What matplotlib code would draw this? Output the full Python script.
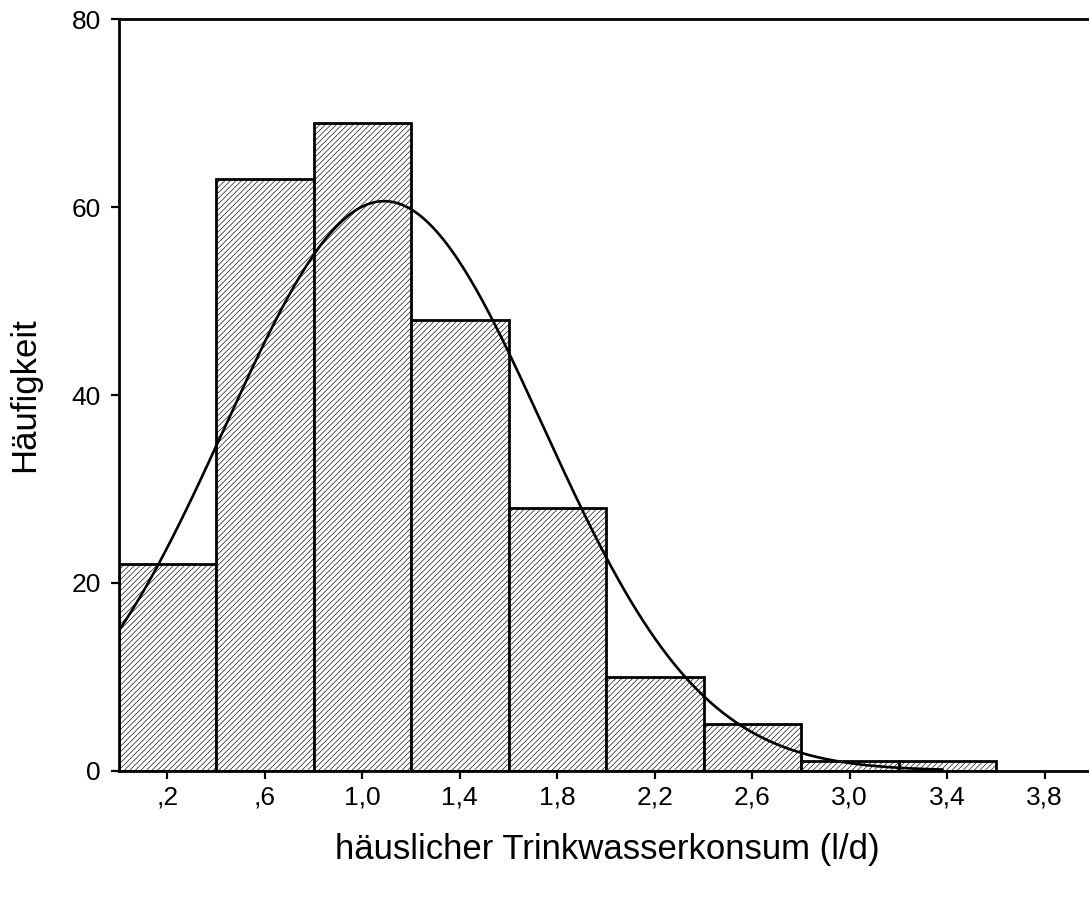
import numpy as np
import matplotlib
matplotlib.use("Agg")
import matplotlib.pyplot as plt

# ---- data ----
bin_edges_start = [0.0, 0.4, 0.8, 1.2, 1.6, 2.0, 2.4, 2.8, 3.2]
bin_width = 0.4
counts = [22, 63, 69, 48, 28, 10, 5, 1, 1]
x_ticks = [0.2, 0.6, 1.0, 1.4, 1.8, 2.2, 2.6, 3.0, 3.4, 3.8]
x_tick_labels = [",2", ",6", "1,0", "1,4", "1,8", "2,2", "2,6", "3,0", "3,4", "3,8"]
y_ticks = [0, 20, 40, 60, 80]
fit_mean = 1.09
fit_sd = 0.65
curve_range = (0.0, 3.38)

plt.rcParams['font.family'] = ['Liberation Sans', 'DejaVu Sans']
plt.rcParams['hatch.linewidth'] = 0.45
plt.rcParams['hatch.color'] = '#3a3a3a'

fig = plt.figure(figsize=(10.89, 9.01), dpi=100)
left_px, bottom_px, top_px = 118.5, 770.7, 19.3
left = left_px / 1089
bottom = 1 - bottom_px / 901
top = 1 - top_px / 901
ax = fig.add_axes([left, bottom, 1.0 - left, top - bottom])

ax.bar(bin_edges_start, counts, width=bin_width, align='edge',
       facecolor='white', edgecolor='black', linewidth=2.0, hatch='//////', zorder=2)

n_total = sum(counts)
xs = np.linspace(curve_range[0], curve_range[1], 400)
ys = n_total * bin_width / (fit_sd * np.sqrt(2 * np.pi)) * np.exp(-0.5 * ((xs - fit_mean) / fit_sd) ** 2)
ax.plot(xs, ys, color='black', linewidth=1.9, zorder=3)

ax.set_xlim(0, (1089 - left_px) / 243.75)
ax.set_ylim(0, 80)
ax.set_xticks(x_ticks)
ax.set_xticklabels(x_tick_labels)
ax.set_yticks(y_ticks)

for s in ['left', 'bottom', 'top']:
    ax.spines[s].set_linewidth(2.0)
ax.spines['right'].set_visible(False)
ax.tick_params(axis='both', direction='out', length=5.6, width=1.6, labelsize=19)
ax.tick_params(axis='y', pad=7)
ax.tick_params(axis='x', pad=5)

axw = 1089 - left_px
axh = bottom_px - top_px
ax.set_ylabel("Häufigkeit", fontsize=25, va='center', ha='center')
ax.yaxis.set_label_coords((25 - left_px) / axw, 0.5)
ax.set_xlabel("häuslicher Trinkwasserkonsum (l/d)", fontsize=25, va='center', ha='center')
ax.xaxis.set_label_coords((607.5 - left_px) / axw, -(849 - bottom_px) / axh)

fig.savefig("out.png", dpi=100)
